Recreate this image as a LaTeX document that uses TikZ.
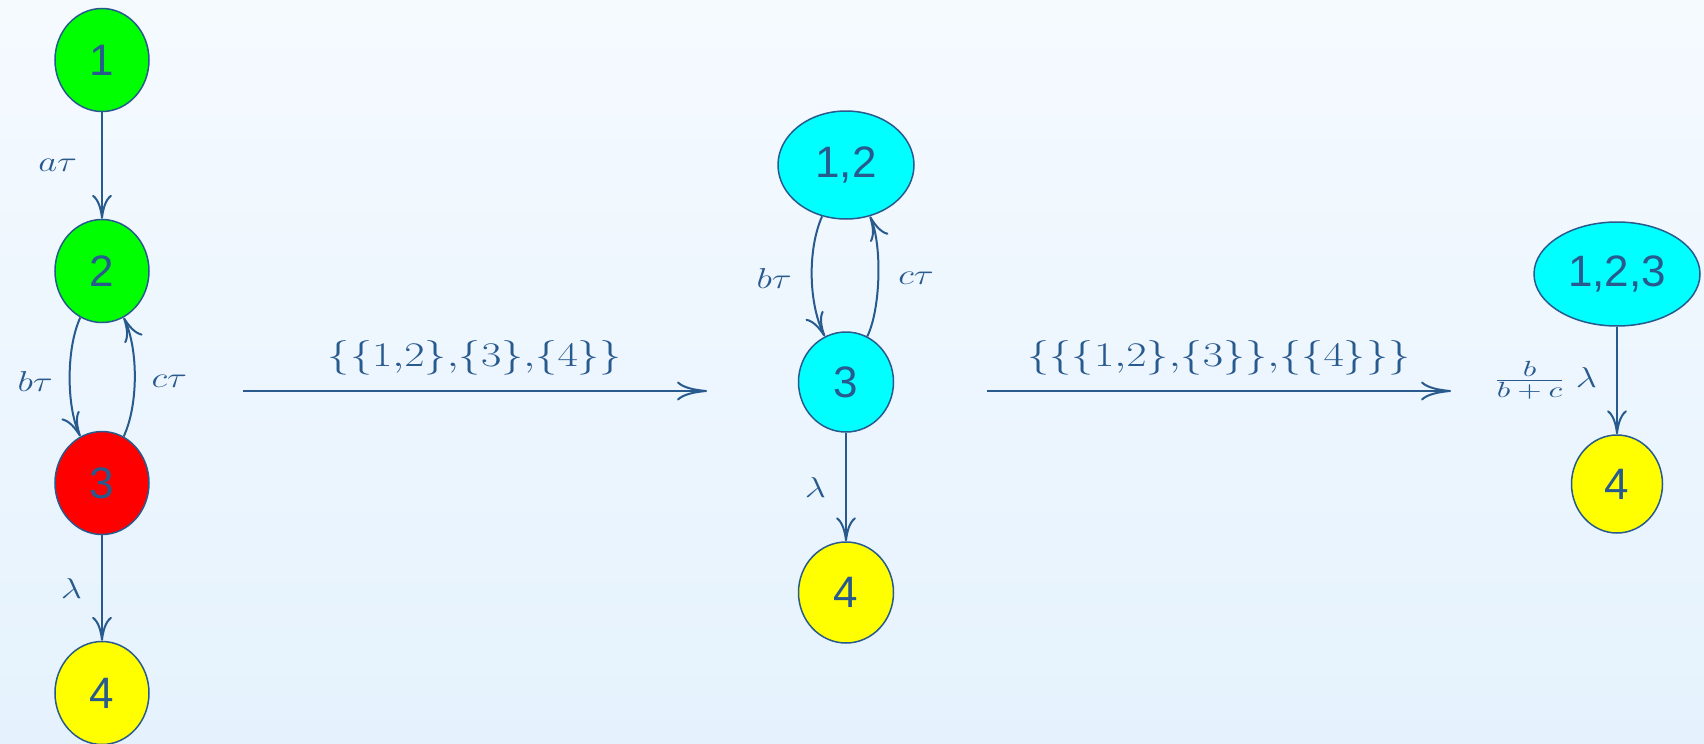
\documentclass[tikz,border=0pt]{standalone}
\usepackage{graphicx}
\usepackage{fontspec}
\newfontfamily\statefont{Liberation Sans}
\usetikzlibrary{arrows.meta,shapes.geometric}

\definecolor{ink}{RGB}{40,90,142}
\definecolor{bgtop}{RGB}{245,250,255}
\definecolor{bgbottom}{RGB}{229,242,253}
\definecolor{sgreen}{RGB}{0,255,0}
\definecolor{sred}{RGB}{255,0,0}
\definecolor{scyan}{RGB}{0,255,255}
\definecolor{syellow}{RGB}{255,255,0}

% widened math labels
\newcommand\lab[1]{\scalebox{1.28}[1]{$#1$}}

\tikzset{
  state/.style={ellipse, draw=ink, line width=0.75pt, inner sep=0pt,
    text=ink, font=\statefont\fontsize{22}{22}\selectfont},
  edge/.style={draw=ink, line width=1pt,
    -{Computer Modern Rightarrow[length=12pt,width=10pt]}},
  longedge/.style={draw=ink, line width=1pt,
    -{Computer Modern Rightarrow[length=15pt,width=9.5pt]}},
  lbl/.style={text=ink, inner sep=0pt, font=\fontsize{15}{18}\selectfont},
  setlbl/.style={text=ink, inner sep=0pt, font=\fontsize{16}{19}\selectfont},
}

\begin{document}
\begin{tikzpicture}[x=0.5pt,y=-0.5pt]
  % background
  \shade[top color=bgtop, bottom color=bgbottom] (0,0) rectangle (1704,744);
  \useasboundingbox (0,0) rectangle (1704,744);

  % original chain
  \node[state, fill=sgreen,  minimum width=47pt, minimum height=51.5pt] (l1) at (102,60)  {1};
  \node[state, fill=sgreen,  minimum width=47pt, minimum height=51.5pt] (l2) at (102,271) {2};
  \node[state, fill=sred,    minimum width=47pt, minimum height=51.5pt] (l3) at (102,483) {3};
  \node[state, fill=syellow, minimum width=47pt, minimum height=51.5pt] (l4) at (102,693) {4};

  \draw[edge] (l1) -- node[lbl, left=12pt] {\lab{a\tau}} (l2);
  \draw[edge] (l2) to[bend right=25, looseness=0.72] node[lbl, left=8pt, yshift=-2pt] {\lab{b\tau}} (l3);
  \draw[edge] (l3) to[bend right=25, looseness=0.75] node[lbl, right=8pt, yshift=-2pt] {\lab{c\tau}} (l2);
  \draw[edge] (l3) -- node[lbl, left=9.5pt] {\lab{\lambda}} (l4);

  % first aggregation
  \coordinate (p1) at (243,391);
  \coordinate (p2) at (707,391);
  \draw[longedge] (p1) -- node[setlbl, above=7.5pt] {\lab{\{\{1{,}2\}{,}\{3\}{,}\{4\}\}}} (p2);

  \node[state, fill=scyan,   minimum width=68pt,   minimum height=54pt]   (m12) at (846,165) {1,2};
  \node[state, fill=scyan,   minimum width=47.5pt, minimum height=50pt]   (m3)  at (846,382) {3};
  \node[state, fill=syellow, minimum width=47.5pt, minimum height=50.5pt] (m4)  at (846,592.5) {4};

  \draw[edge] (m12) to[bend right=25, looseness=0.78] node[lbl, left=9.5pt, yshift=-1pt] {\lab{b\tau}} (m3);
  \draw[edge] (m3) to[bend right=25, looseness=0.65] node[lbl, right=9.5pt, yshift=-1pt] {\lab{c\tau}} (m12);
  \draw[edge] (m3) -- node[lbl, left=9.5pt] {\lab{\lambda}} (m4);

  % second aggregation
  \coordinate (q1) at (987,391);
  \coordinate (q2) at (1451,391);
  \draw[longedge] (q1) -- node[setlbl, above=7.5pt] {\lab{\{\{\{1{,}2\}{,}\{3\}\}{,}\{\{4\}\}\}}} (q2);

  \node[state, fill=scyan,   minimum width=83pt,   minimum height=52pt] (r123) at (1617,274) {1,2,3};
  \node[state, fill=syellow, minimum width=45.5pt, minimum height=49pt] (r4)   at (1617,484) {4};

  \draw[edge] (r123) -- node[lbl, left=9.5pt]
    {\lab{\vcenter{\hbox{\scalebox{1.12}[1]{$\frac{b}{b\mskip4mu+\mskip4mu c}$}}}\;\lambda}} (r4);
\end{tikzpicture}
\end{document}
